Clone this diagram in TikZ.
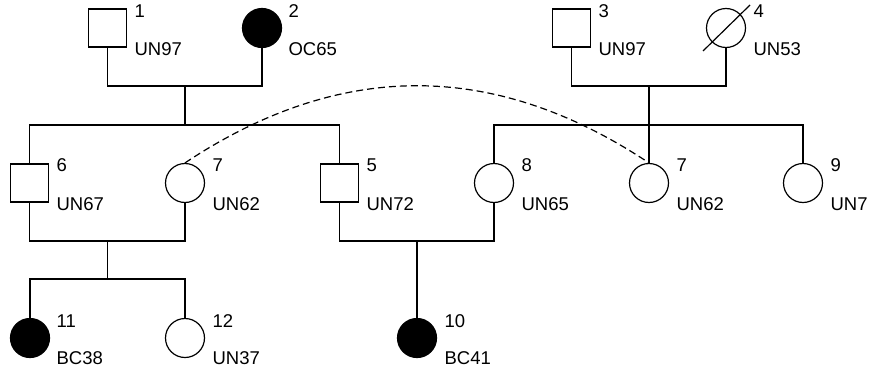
\documentclass[tikz,border=0pt]{standalone}
\usepackage{fontspec}
\setmainfont{Liberation Sans}

\begin{document}
\begin{tikzpicture}[x=1pt,y=-1pt,line width=1.2pt,
    male/.style={draw,rectangle,minimum size=38pt,inner sep=0pt},
    female/.style={draw,circle,minimum size=39pt,inner sep=0pt},
    affected/.style={fill=black},
    tag/.style={anchor=base west,inner sep=0pt,font=\fontsize{18.5}{21}\selectfont}]
    \useasboundingbox (0,0) rectangle (872,372);
    % generation I
    \node[male] (I1) at (107.5,28) {};
    \node[female,affected] (I2) at (262,28) {};
    \node[male] (I3) at (571.5,28) {};
    \node[female] (I4) at (726,28) {};
    \draw ([shift={(-23,23)}]I4.center) -- ([shift={(24,-23)}]I4.center);
    \node[tag] (n1) at (134,17) {1};
    \node[tag] (a1) at (134,55) {UN97};
    \node[tag] (n2) at (288,17) {2};
    \node[tag] (a2) at (288,55) {OC65};
    \node[tag] (n3) at (598,17) {3};
    \node[tag] (a3) at (598,55) {UN97};
    \node[tag] (n4) at (753,17) {4};
    \node[tag] (a4) at (753,55) {UN53};
    % generation II
    \node[male] (I6) at (29.5,183) {};
    \node[female] (I7a) at (185,183) {};
    \node[male] (I5) at (339.5,183) {};
    \node[female] (I8) at (494,183) {};
    \node[female] (I7b) at (649,183) {};
    \node[female] (I9) at (803,183) {};
    \node[tag] (n6) at (56,171) {6};
    \node[tag] (a6) at (56,210) {UN67};
    \node[tag] (n7a) at (212,171) {7};
    \node[tag] (a7a) at (212,210) {UN62};
    \node[tag] (n5) at (366,171) {5};
    \node[tag] (a5) at (366,210) {UN72};
    \node[tag] (n8) at (521,171) {8};
    \node[tag] (a8) at (521,210) {UN65};
    \node[tag] (n7b) at (676,171) {7};
    \node[tag] (a7b) at (676,210) {UN62};
    \node[tag] (n9) at (830,171) {9};
    \node[tag] (a9) at (830,210) {UN7};
    % generation III
    \node[female,affected] (I11) at (30,338) {};
    \node[female] (I12) at (185,338) {};
    \node[female,affected] (I10) at (417,338) {};
    \node[tag] (n11) at (56,327) {11};
    \node[tag] (a11) at (56,364) {BC38};
    \node[tag] (n12) at (212,327) {12};
    \node[tag] (a12) at (212,364) {UN37};
    \node[tag] (n10) at (444,327) {10};
    \node[tag] (a10) at (444,364) {BC41};
    % lines
    \coordinate (m12) at (185,86);
    \coordinate (s12) at (185,125);
    \coordinate (m34) at (649,86);
    \coordinate (s34) at (649,125);
    \coordinate (m67) at (107.5,241);
    \coordinate (s67) at (107.5,279);
    \coordinate (m58) at (417,241);
    \draw (I1.south) |- (m12) -| (I2.south);
    \draw (m12) -- (s12);
    \draw (I6.north) |- (s12) -| (I5.north);
    \draw (I3.south) |- (m34) -| (I4.south);
    \draw (m34) -- (I7b.north);
    \draw (I8.north) |- (s34) -| (I9.north);
    \draw (I6.south) |- (m67) -| (I7a.south);
    \draw (m67) -- (s67);
    \draw (I11.north) |- (s67) -| (I12.north);
    \draw (I5.south) |- (m58) -| (I8.south);
    \draw (m58) -- (I10.north);
    \draw[dash pattern=on 7pt off 4pt] (I7a.north) .. controls (340,60) and (494,60) .. (I7b.north);
\end{tikzpicture}
\end{document}
